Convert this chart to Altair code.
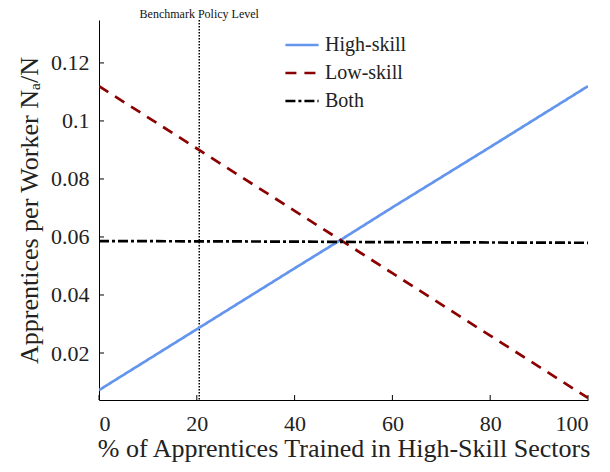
import altair as alt
import pandas as pd

# ---- data ----
share = [0, 20, 40, 50, 60, 80, 100]
high_skill = [0.0072, 0.0282, 0.0492, 0.0596, 0.0702, 0.0910, 0.1120]
low_skill = [0.1120, 0.0905, 0.0690, 0.0583, 0.0475, 0.0260, 0.0045]
both = [0.0586, 0.0585, 0.0584, 0.0583, 0.0582, 0.0581, 0.0580]
series_names = ["High-skill", "Low-skill", "Both"]
series_colors = ["#6495ED", "#8B0000", "#000000"]
series_dashes = [[1, 0], [11, 8], [10, 3, 3, 3]]
benchmark = [20.5]
benchmark_label = "Benchmark Policy Level"
y_ticks = [0.02, 0.04, 0.06, 0.08, 0.10, 0.12]
x_ticks = [0, 20, 40, 60, 80, 100]
y_domain = [0.0038, 0.1348]
x_domain = [0, 100]

rows = []
for name, vals in zip(series_names, [high_skill, low_skill, both]):
    for s, v in zip(share, vals):
        rows.append({"share": s, "value": v, "series": name})
df = pd.DataFrame(rows)

W, H = 489, 380
FONT = "Liberation Serif"

xs = alt.Scale(domain=x_domain, nice=False, zero=False)
ys = alt.Scale(domain=y_domain, nice=False, zero=False)

lines = alt.Chart(df).mark_line(strokeWidth=2.7, clip=True).encode(
    x=alt.X("share:Q", scale=xs,
            axis=alt.Axis(values=x_ticks, ticks=False, grid=False, domainColor="black",
                          labelFont=FONT, labelFontSize=22, labelColor="#222",
                          labelPadding=13, title="% of Apprentices Trained in High-Skill Sectors",
                          titleFont=FONT, titleFontSize=26, titleFontWeight="normal",
                          titleColor="#222", titlePadding=1, domainWidth=1)),
    y=alt.Y("value:Q", scale=ys,
            axis=alt.Axis(values=y_ticks, ticks=False, grid=False, format="~g",
                          domainColor="black", labelFont=FONT, labelFontSize=22,
                          labelColor="#222", labelPadding=10,
                          title="Apprentices per Worker  Nₐ/N", titleFont=FONT,
                          titleFontSize=26, titleFontWeight="normal", titleColor="#222",
                          titlePadding=8, domainWidth=1)),
    color=alt.Color("series:N", scale=alt.Scale(domain=series_names, range=series_colors),
                    legend=alt.Legend(title=None, orient="none", legendX=185, legendY=7,
                                      symbolType="stroke", symbolSize=1100, symbolStrokeWidth=2.7,
                                      labelFont=FONT, labelFontSize=20, labelColor="#222",
                                      rowPadding=-11, symbolOffset=0, labelOffset=5)),
    strokeDash=alt.StrokeDash("series:N",
                              scale=alt.Scale(domain=series_names, range=series_dashes),
                              legend=None),
    detail="series:N",
)

bench_df = pd.DataFrame({"share": benchmark, "label": [benchmark_label]})
bench = alt.Chart(bench_df).mark_rule(color="black", strokeWidth=1.5, strokeDash=[1.5, 1.5]).encode(
    x=alt.X("share:Q", scale=xs)
)
bench_text = alt.Chart(bench_df).mark_text(font=FONT, fontSize=12, color="#111",
                                           baseline="alphabetic", dy=-2).encode(
    x=alt.X("share:Q", scale=xs), y=alt.value(0), text="label:N"
)

ytick_df = pd.DataFrame({"v": y_ticks})
yt = alt.Chart(ytick_df).mark_rule(color="black", strokeWidth=1).encode(
    y=alt.Y("v:Q", scale=ys), x=alt.value(0), x2=alt.value(5)
)
xtick_df = pd.DataFrame({"v": x_ticks})
xt = alt.Chart(xtick_df).mark_rule(color="black", strokeWidth=1).encode(
    x=alt.X("v:Q", scale=xs), y=alt.value(H), y2=alt.value(H - 5)
)

chart = alt.layer(bench, yt, xt, lines, bench_text).properties(
    width=W, height=H,
    autosize=alt.AutoSizeParams(type="none"),
    padding={"left": 91, "top": 12, "right": 12, "bottom": 64},
).configure(background="white", font=FONT).configure_view(stroke=None)

chart.save("out.html", embed_options={"renderer": "svg", "actions": False})
